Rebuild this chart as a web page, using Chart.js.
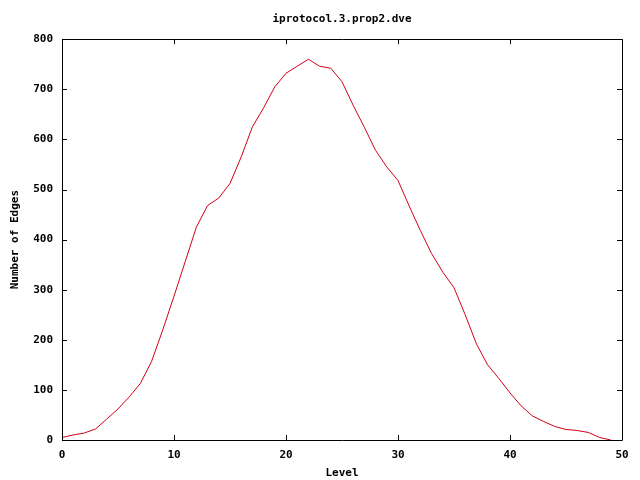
<!DOCTYPE html>
<html>
<head>
<meta charset="utf-8">
<script src="https://cdn.jsdelivr.net/npm/chart.js@4/dist/chart.umd.min.js"></script>
<style>
  html, body { margin: 0; padding: 0; background: #fff; }
  #wrap { width: 640px; height: 480px; position: relative; }
</style>
</head>
<body>
<div id="wrap"><canvas id="c" width="640" height="480"></canvas></div>
<script>
const chartTitle = "iprotocol.3.prop2.dve";
const xTitle = "Level";
const yTitle = "Number of Edges";
const levels = [0,1,2,3,4,5,6,7,8,9,10,11,12,13,14,15,16,17,18,19,20,21,22,23,24,25,26,27,28,29,30,31,32,33,34,35,36,37,38,39,40,41,42,43,44,45,46,47,48,49];
const edges = [5,10,14,22,42,62,86,113,157,220,287,356,425,468,483,512,565,625,663,705,732,746,760,746,742,715,668,624,578,545,518,467,418,372,335,304,250,192,150,123,94,68,48,37,27,21,19,15,5,0];
const xTicks = [0,10,20,30,40,50];
const yTicks = [0,100,200,300,400,500,600,700,800];

const FONT = { family: "'DejaVu Sans Mono', 'Liberation Mono', monospace", size: 11, weight: 'bold' };

const frame = {
  id: 'frame',
  afterDraw(chart) {
    const ctx = chart.ctx, a = chart.chartArea;
    const xs = chart.scales.x, ys = chart.scales.y;
    ctx.save();
    ctx.strokeStyle = '#000';
    ctx.lineWidth = 1;
    ctx.beginPath();
    ctx.rect(Math.round(a.left) + 0.5, Math.round(a.top) + 0.5, Math.round(a.right - a.left), Math.round(a.bottom - a.top));
    const L = 5;
    xTicks.forEach(v => {
      const px = Math.round(xs.getPixelForValue(v)) + 0.5;
      ctx.moveTo(px, a.bottom); ctx.lineTo(px, a.bottom - L);
      ctx.moveTo(px, a.top); ctx.lineTo(px, a.top + L);
    });
    yTicks.forEach(v => {
      const py = Math.round(ys.getPixelForValue(v)) + 0.5;
      ctx.moveTo(a.left, py); ctx.lineTo(a.left + L, py);
      ctx.moveTo(a.right, py); ctx.lineTo(a.right - L, py);
    });
    ctx.stroke();
    ctx.restore();
  }
};

new Chart(document.getElementById('c'), {
  type: 'line',
  data: {
    labels: levels,
    datasets: [{
      data: levels.map((l, i) => ({ x: l, y: edges[i] })),
      borderColor: 'rgb(210,0,25)',
      borderWidth: 1,
      pointRadius: 0,
      tension: 0,
      fill: false
    }]
  },
  options: {
    responsive: false,
    animation: false,
    layout: { padding: { left: 0, right: 18, top: 0, bottom: 0 } },
    plugins: {
      legend: { display: false },
      tooltip: { enabled: false },
      title: {
        display: true,
        text: chartTitle,
        fullSize: false,
        color: '#000',
        font: FONT,
        padding: { top: 13, bottom: 13 }
      }
    },
    scales: {
      x: {
        type: 'linear',
        min: 0, max: 50,
        afterFit(s) { s.height = 40; },
        afterBuildTicks(s) { s.ticks = xTicks.map(v => ({ value: v })); },
        grid: { display: false, drawTicks: false },
        border: { display: false },
        ticks: { color: '#000', font: FONT, padding: 9, maxRotation: 0, autoSkip: false },
        title: { display: true, text: xTitle, color: '#000', font: FONT, padding: { top: 0, bottom: 0 } }
      },
      y: {
        type: 'linear',
        min: 0, max: 800,
        afterFit(s) { s.width = 62; },
        afterBuildTicks(s) { s.ticks = yTicks.map(v => ({ value: v })); },
        grid: { display: false, drawTicks: false },
        border: { display: false },
        ticks: { color: '#000', font: FONT, padding: 9, autoSkip: false },
        title: { display: true, text: yTitle, color: '#000', font: FONT, padding: { top: 9, bottom: 0 } }
      }
    }
  },
  plugins: [frame]
});
</script>
</body>
</html>
